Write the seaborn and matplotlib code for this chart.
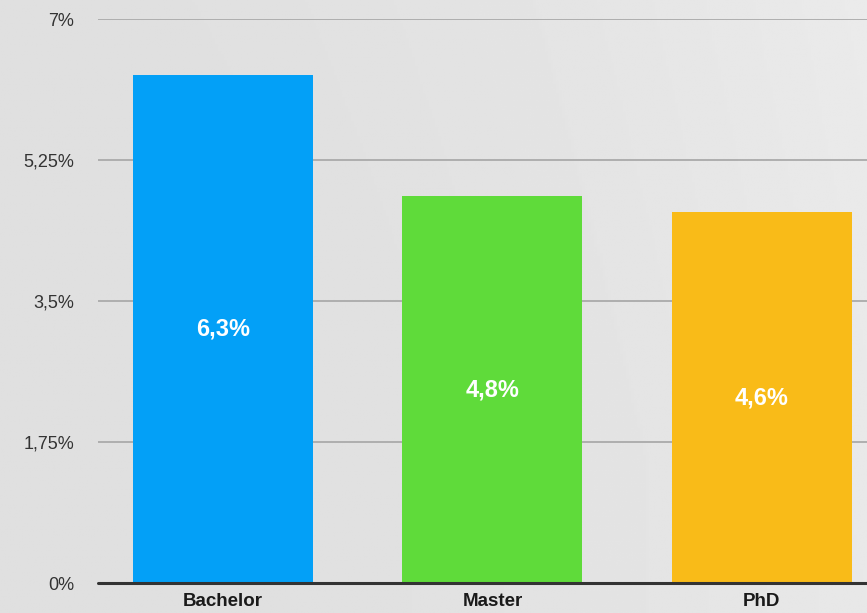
import numpy as np
import pandas as pd
import matplotlib
matplotlib.use("Agg")
import matplotlib.pyplot as plt
import seaborn as sns

# Data
degrees = ["Bachelor", "Master", "PhD"]
rates = [6.3, 4.8, 4.6]
bar_colors = ["#03a0f7", "#5fdb3a", "#f9bb18"]
y_ticks = [0, 1.75, 3.5, 5.25, 7]
y_tick_labels = ["0%", "1,75%", "3,5%", "5,25%", "7%"]

df = pd.DataFrame({"degree": degrees, "rate": rates})

sns.set_theme(style="white")
plt.rcParams["font.family"] = ["Liberation Sans", "DejaVu Sans"]

fig = plt.figure(figsize=(8.67, 6.13), dpi=100)
fig.patch.set_facecolor("#e0e0e0")

# soft background shading: slightly lighter toward the right
bg = fig.add_axes([0, 0, 1, 1], zorder=-10)
gx = np.linspace(0, 1, 300)
gy = np.linspace(0, 1, 200)
GX, GY = np.meshgrid(gx, gy)
shade = 0.875 + 0.035 * GX ** 2 + 0.01 * np.clip(GX - GY, 0, 1)
bg.imshow(shade, cmap="gray", vmin=0, vmax=1, aspect="auto", extent=[0, 1, 0, 1])
bg.set_axis_off()

ax = fig.add_axes([98 / 867, 1 - 583 / 613, 1 - 98 / 867, (583 - 19) / 613])
ax.set_facecolor("none")

sns.barplot(data=df, x="degree", y="rate", hue="degree", palette=bar_colors,
            width=0.668, legend=False, ax=ax, saturation=1, zorder=3,
            linewidth=0, edgecolor="none")

ax.set_ylim(0, 7)
ax.set_xlim(-0.464, 2.39)
ax.set_yticks(y_ticks)
ax.set_yticklabels(y_tick_labels, fontsize=13, color="#333333")
ax.tick_params(axis="y", length=0, pad=17)
ax.tick_params(axis="x", length=0, pad=7)
for lbl in ax.get_xticklabels():
    lbl.set_fontweight("bold")
    lbl.set_fontsize(13.5)
    lbl.set_color("#1a1a1a")
ax.set_xlabel("")
ax.set_ylabel("")

for t in y_ticks[1:]:
    ax.axhline(t, color="#aaaaaa", lw=1.3, zorder=1)
ax.axhline(0, color="#333333", lw=2.2, zorder=4, clip_on=False)

for s in ax.spines.values():
    s.set_visible(False)

for i, v in enumerate(rates):
    ax.text(i, v / 2, f"{v:.1f}%".replace(".", ","), ha="center", va="center",
            color="white", fontsize=17, fontweight="bold", zorder=5)

fig.savefig("out.png", dpi=100, facecolor=fig.get_facecolor())
